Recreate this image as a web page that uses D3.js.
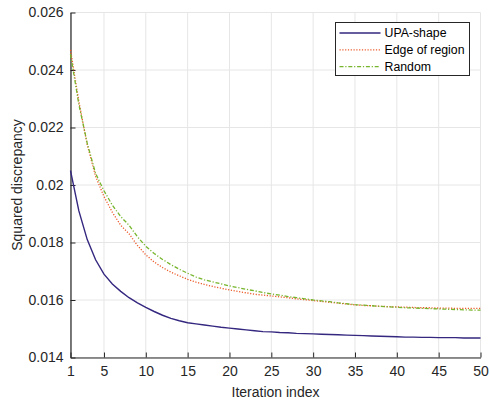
<!DOCTYPE html>
<html>
<head>
<meta charset="utf-8">
<script src="https://cdn.jsdelivr.net/npm/d3@7"></script>
<style>
  body { margin: 0; background: #fff; }
  svg { display: block; font-family: 'Liberation Sans', Arial, sans-serif; }
</style>
</head>
<body>
<div id="chart"></div>
<script>
const iterations = d3.range(1, 51);

const upaShape = [
  0.0205, 0.0191, 0.0181, 0.0174, 0.0169, 0.01656, 0.0163, 0.01608, 0.0159, 0.01574,
  0.0156, 0.01547, 0.01536, 0.01528, 0.01521, 0.01517, 0.01513, 0.01509, 0.01505, 0.01502,
  0.01499, 0.01496, 0.01493, 0.0149, 0.01489, 0.01487, 0.01486, 0.01484, 0.01483, 0.01482,
  0.01481, 0.0148, 0.01479, 0.01478, 0.01477, 0.01476, 0.01475, 0.01474, 0.01473, 0.01472,
  0.01471, 0.01471, 0.0147, 0.0147, 0.01469, 0.01469, 0.01469, 0.01468, 0.01468, 0.01468
];

const edgeOfRegion = [
  0.0247, 0.0229, 0.0214, 0.0203, 0.0196, 0.01905, 0.0186, 0.0183, 0.0179, 0.01757,
  0.01732, 0.01713, 0.01697, 0.01684, 0.01672, 0.01662, 0.01654, 0.01647, 0.01641, 0.01635,
  0.0163, 0.01625, 0.0162, 0.01617, 0.01614, 0.01611, 0.01608, 0.01604, 0.01601, 0.01598,
  0.01595, 0.01592, 0.01589, 0.01586, 0.01583, 0.01581, 0.0158, 0.01578, 0.01577, 0.01576,
  0.01575, 0.01574, 0.01573, 0.01573, 0.01572, 0.01572, 0.01571, 0.01571, 0.01571, 0.01571
];

const random = [
  0.02455, 0.0228, 0.02145, 0.0204, 0.0198, 0.0193, 0.0189, 0.0186, 0.0182, 0.01787,
  0.01762, 0.01741, 0.01723, 0.01707, 0.01693, 0.0168, 0.0167, 0.01663, 0.01656, 0.01649,
  0.01643, 0.01637, 0.01632, 0.01626, 0.01621, 0.01617, 0.01612, 0.01608, 0.01604, 0.016,
  0.01597, 0.01594, 0.0159, 0.01587, 0.01584, 0.01582, 0.0158, 0.01578, 0.01576, 0.01575,
  0.01573, 0.01572, 0.01571, 0.0157, 0.01569, 0.01568, 0.01567, 0.01566, 0.01565, 0.01565
];

const xTicks = [1, 5, 10, 15, 20, 25, 30, 35, 40, 45, 50];
const yTicks = [0.014, 0.016, 0.018, 0.02, 0.022, 0.024, 0.026];
const yTickLabels = ['0.014', '0.016', '0.018', '0.02', '0.022', '0.024', '0.026'];

const seriesNames = ['UPA-shape', 'Edge of region', 'Random'];


function drawChart () {
  const width = 490;
  const height = 401;
  const margin = { top: 12.5, right: 9.5, bottom: 43.5, left: 70.5 };

  const series = [
    { name: seriesNames[0], values: upaShape, color: '#33277f', dash: null, width: 1.4 },
    { name: seriesNames[1], values: edgeOfRegion, color: '#ec5a28', dash: '1.2,1.6', width: 1.3 },
    { name: seriesNames[2], values: random, color: '#77b52c', dash: '4,1.8,1.2,1.8', width: 1.3 }
  ];

  const svg = d3.select('#chart')
    .append('svg')
    .attr('width', width)
    .attr('height', height);

  const x = d3.scaleLinear()
    .domain([1, 50])
    .range([margin.left, width - margin.right]);

  const y = d3.scaleLinear()
    .domain([0.014, 0.026])
    .range([height - margin.bottom, margin.top]);

  // grid
  const grid = svg.append('g')
    .attr('stroke', '#e6e6e6')
    .attr('stroke-width', 1);

  grid.selectAll('.vx')
    .data(xTicks)
    .join('line')
    .attr('x1', d => x(d))
    .attr('x2', d => x(d))
    .attr('y1', y.range()[0])
    .attr('y2', y.range()[1]);

  grid.selectAll('.hy')
    .data(yTicks)
    .join('line')
    .attr('y1', d => y(d))
    .attr('y2', d => y(d))
    .attr('x1', x.range()[0])
    .attr('x2', x.range()[1]);

  // axes
  const xAxis = svg.append('g')
    .attr('transform', `translate(0,${y.range()[0]})`)
    .call(d3.axisBottom(x).tickValues(xTicks).tickSizeInner(-5).tickSizeOuter(0).tickPadding(9));

  const yAxis = svg.append('g')
    .attr('transform', `translate(${x.range()[0]},0)`)
    .call(d3.axisLeft(y).tickValues(yTicks).tickFormat((d, i) => yTickLabels[i])
      .tickSizeInner(-5).tickSizeOuter(0).tickPadding(7));

  [xAxis, yAxis].forEach(ax => {
    ax.select('.domain').attr('stroke', '#262626').attr('stroke-width', 1.2);
    ax.selectAll('.tick line').attr('stroke', '#262626');
    ax.selectAll('.tick text')
      .attr('fill', '#262626')
      .attr('font-size', 14)
      .attr('font-family', "'Liberation Sans', Arial, sans-serif");
  });

  // lines
  const line = d3.line()
    .x((d, i) => x(iterations[i]))
    .y(d => y(d));

  svg.append('g')
    .selectAll('path')
    .data(series)
    .join('path')
    .attr('fill', 'none')
    .attr('stroke', d => d.color)
    .attr('stroke-width', d => d.width)
    .attr('stroke-dasharray', d => d.dash)
    .attr('d', d => line(d.values));

  // axis labels
  svg.append('text')
    .attr('x', (x.range()[0] + x.range()[1]) / 2)
    .attr('y', 397)
    .attr('text-anchor', 'middle')
    .attr('font-size', 14)
    .attr('fill', '#262626')
    .text('Iteration index');

  svg.append('text')
    .attr('transform', `translate(22,${(y.range()[0] + y.range()[1]) / 2}) rotate(-90)`)
    .attr('text-anchor', 'middle')
    .attr('font-size', 14)
    .attr('fill', '#262626')
    .text('Squared discrepancy');

  // legend
  const legend = svg.append('g')
    .attr('transform', 'translate(335.5,22.5)');

  legend.append('rect')
    .attr('width', 134)
    .attr('height', 53)
    .attr('fill', '#fff')
    .attr('stroke', '#262626')
    .attr('stroke-width', 1);

  const rows = legend.selectAll('.row')
    .data(series)
    .join('g')
    .attr('transform', (d, i) => `translate(0,${10.5 + i * 16.8})`);

  rows.append('line')
    .attr('x1', 4)
    .attr('x2', 45)
    .attr('stroke', d => d.color)
    .attr('stroke-width', d => d.width)
    .attr('stroke-dasharray', d => d.dash);

  rows.append('text')
    .attr('x', 49)
    .attr('dy', '0.35em')
    .attr('font-size', 12.3)
    .attr('fill', '#000')
    .text(d => d.name);
}

drawChart();
</script>
</body>
</html>
